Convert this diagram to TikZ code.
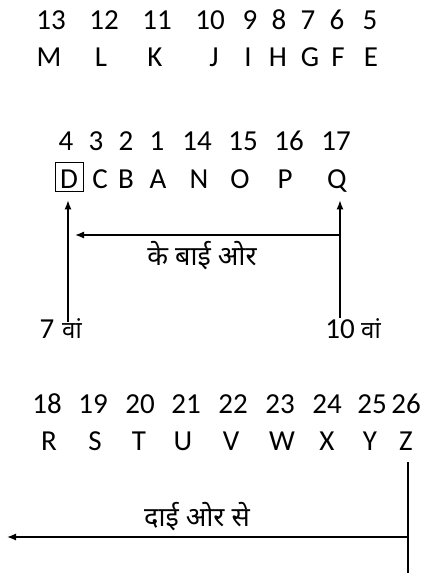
\documentclass[tikz,border=0pt]{standalone}
\usepackage{fontspec}
\setmainfont{Carlito}
\newfontfamily\hindi[Script=Devanagari]{Noto Sans}
\usetikzlibrary{arrows.meta}
\begin{document}
\begin{tikzpicture}[x=1pt,y=-1pt,
  txt/.style={font=\fontsize{29}{32}\selectfont, inner sep=0pt, anchor=base},
  hin/.style={font=\hindi\fontsize{27}{30}\selectfont, inner sep=0pt, anchor=base},
  hinsm/.style={font=\hindi\fontsize{24}{28}\selectfont, inner sep=0pt, anchor=base},
  ln/.style={line width=1.3pt},
  arr/.style={line width=1.3pt, -{Latex[length=9pt,width=7pt]}}]
\useasboundingbox (0,0) rectangle (428,573);
% row 1
\foreach \n/\x in {13/51,12/104,11/157,10/210,9/250,8/279,7/308,6/337,5/370}
  \node[txt] (n\n) at (\x,29) {\n};
\foreach \l/\x in {M/49,L/101,K/155,J/214,I/248,H/278,G/310,F/338,E/371}
  \node[txt] (l\l) at (\x,66) {\l};
% row 2
\foreach \n/\x in {4/66,3/96,2/126,1/157,14/197,15/243,16/289,17/336}
  \node[txt] (n\n) at (\x,150) {\n};
\foreach \l/\x in {C/100,B/126,A/158,N/199,O/240,P/285,Q/337}
  \node[txt] (l\l) at (\x,188) {\l};
\node[txt] (lDt) at (69,188) {D};
\node[draw, line width=0.8pt, minimum width=28pt, minimum height=29pt, inner sep=0pt] (lD) at (69,176.5) {};
% labels
\node[txt] (seven) at (47,338) {7};
\node[hinsm] (sevenv) at (72,338) {वां};
\node[txt] (ten) at (340,338) {10};
\node[hinsm] (tenv) at (371,338) {वां};
\coordinate (s7) at (68,322);
\coordinate (s10) at (340,318);
\coordinate (hR) at (340,235);
\coordinate (hL) at (75,235);
\draw[arr, shorten >=9pt] (s7) -- (lD.south -| s7);
\draw[arr, shorten >=9pt] (s10) -- (lD.south -| s10);
\draw[arr] (hR) -- (hL);
\node[hin] (left) at (202,265) {के बाई ओर};
% row 4
\foreach \n/\x in {18/47,19/93,20/140,21/186,22/233,23/280,24/327,25/372,26/406}
  \node[txt] (n\n) at (\x,413) {\n};
\foreach \l/\x in {R/49,S/95,T/139,U/183,V/231,W/282,X/327,Y/370,Z/406}
  \node[txt] (l\l) at (\x,450) {\l};
\coordinate (zt) at (408,462);
\coordinate (zb) at (408,573);
\coordinate (bR) at (408,537);
\coordinate (bL) at (7,537);
\draw[ln] (zt) -- (zb);
\draw[arr] (bR) -- (bL);
\node[hin] (right) at (197,526) {दाई ओर से};
\end{tikzpicture}
\end{document}
